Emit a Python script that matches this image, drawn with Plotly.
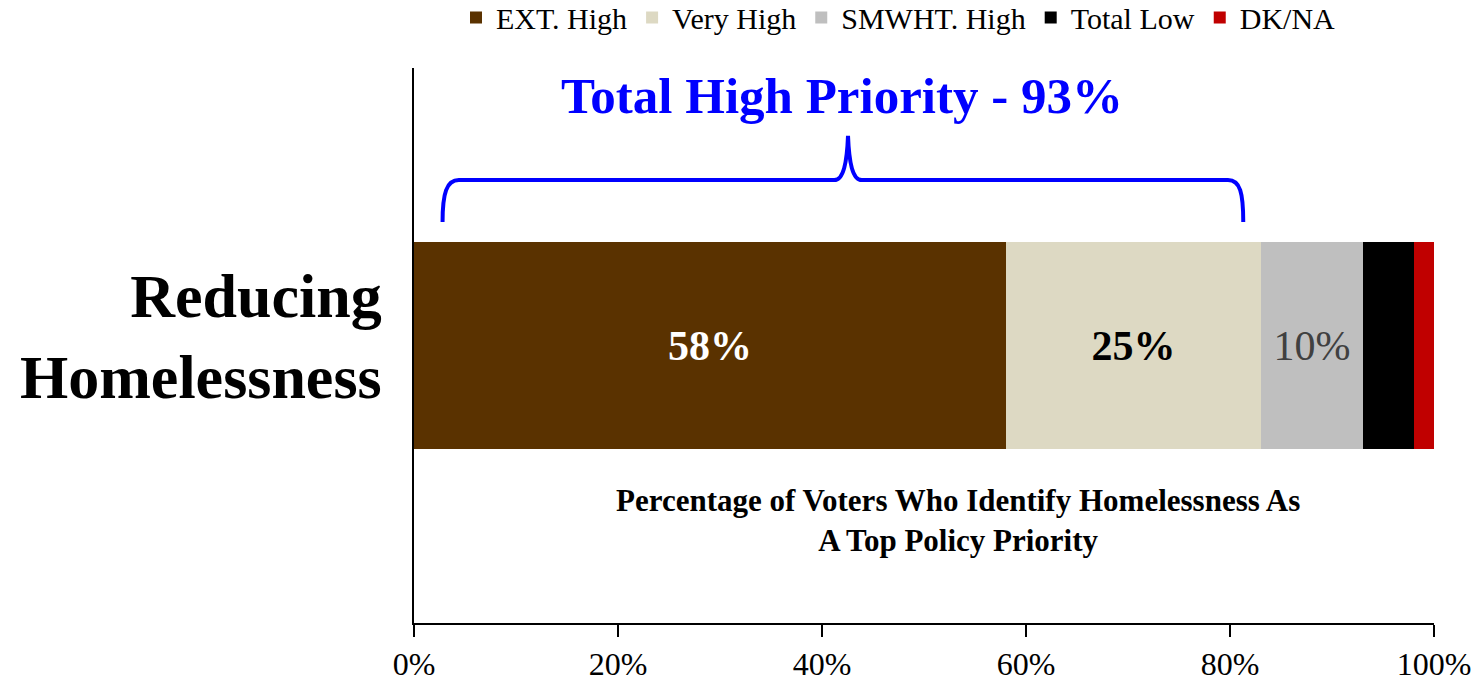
import plotly.graph_objects as go

category = ["Reducing Homelessness"]
category_label = "Reducing<br>Homelessness"
series_names = ["EXT. High", "Very High", "SMWHT. High", "Total Low", "DK/NA"]
series_values = [58, 25, 10, 5, 2]
series_colors = ["#5A3200", "#DDD9C3", "#BFBFBF", "#000000", "#C00000"]
label_colors = ["#FFFFFF", "#000000", "#404040", None, None]
label_bold = [True, True, False, False, False]
tick_vals = [0, 20, 40, 60, 80, 100]
tick_text = ["0%", "20%", "40%", "60%", "80%", "100%"]
title_text = "Total High Priority - 93%"
note_text = "Percentage of Voters Who Identify Homelessness As<br>A Top Policy Priority"

SERIF = "Liberation Serif"

fig = go.Figure()
for name, val, col, lc, bold in zip(series_names, series_values, series_colors, label_colors, label_bold):
    kw = {}
    if lc is not None:
        txt = f"<b>{val}%</b>" if bold else f"{val}%"
        kw = dict(text=[txt], textposition="inside", insidetextanchor="middle",
                  textfont=dict(family=SERIF, size=42, color=lc))
    fig.add_trace(go.Bar(
        y=category, x=[val], name=name, orientation="h",
        marker=dict(color=col, line=dict(width=0)),
        width=0.372, hoverinfo="skip", **kw,
    ))

# Brace over the "total high" segments
brace = ("M 2.8,0.7225 C 2.8,0.775 3.2,0.798 4.4,0.798 "
         "L 41.2,0.798 C 42.1,0.798 42.45,0.83 42.55,0.878 "
         "C 42.65,0.83 43.0,0.798 43.9,0.798 "
         "L 79.8,0.798 C 81.0,0.798 81.3,0.775 81.3,0.7225")
fig.add_shape(type="path", path=brace, xref="x", yref="paper",
              line=dict(color="#0000FF", width=4), fillcolor="rgba(0,0,0,0)")

fig.add_annotation(text=f"<b>{title_text}</b>", x=42.0, y=0.95, xref="x", yref="paper",
                   showarrow=False, font=dict(family=SERIF, size=51, color="#0000FF"),
                   xanchor="center", yanchor="middle")

fig.add_annotation(text=f"<b>{note_text}</b>", x=53.3, y=0.184, xref="x", yref="paper",
                   showarrow=False, font=dict(family=SERIF, size=31, color="#000000"),
                   xanchor="center", yanchor="middle", align="center")

# Category label (drawn as annotation to place it like the original)
fig.add_annotation(text=f"<b>{category_label}</b>", x=0, y=0.516, xref="paper", yref="paper",
                   xshift=-30, showarrow=False, font=dict(family=SERIF, size=62, color="#000000"),
                   xanchor="right", yanchor="middle", align="right")

fig.update_layout(
    barmode="stack",
    width=1477, height=681,
    margin=dict(l=414, r=43, t=68, b=58, autoexpand=False),
    paper_bgcolor="white", plot_bgcolor="white",
    bargap=0,
    legend=dict(orientation="h", x=0.475, xanchor="center", y=1.138, yanchor="top",
                font=dict(family=SERIF, size=30, color="#000000"),
                itemwidth=30, traceorder="normal", bgcolor="rgba(0,0,0,0)"),
    xaxis=dict(range=[0, 100], tickvals=tick_vals, ticktext=tick_text,
               showgrid=False, zeroline=False, showline=True, linecolor="#000000", linewidth=2,
               ticks="outside", ticklen=12, tickwidth=1.5, tickcolor="#000000",
               tickfont=dict(family=SERIF, size=32, color="#000000"), fixedrange=True),
    yaxis=dict(range=[-0.5, 0.5], showgrid=False, zeroline=False, showline=True,
               linecolor="#000000", linewidth=2, ticks="", showticklabels=False,
               fixedrange=True),
    font=dict(family=SERIF),
    showlegend=True,
)

fig.write_html("out.html", config={"displayModeBar": False},
               post_script="document.body.style.margin='0px';document.body.style.overflow='hidden';")
